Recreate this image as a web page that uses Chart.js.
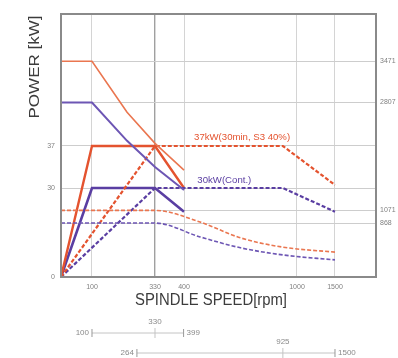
<!DOCTYPE html>
<html>
<head>
<meta charset="utf-8">
<script src="https://cdn.jsdelivr.net/npm/chart.js@4"></script>
<style>
  html, body { margin: 0; padding: 0; background: #fff; }
  #wrap { width: 398px; height: 358px; }
</style>
</head>
<body>
<div id="wrap"><canvas id="myChart" width="398" height="358"></canvas></div>
<script>
// tick values
const speedTicks = [100, 330, 400, 1000, 1500];      // rpm
const powerTicks = [0, 30, 37];                      // kW
const torqueTicks = [3471, 2807, 1071, 868];         // N·m

// power curves [rpm, kW]
const lowGear30 = [[0, 0], [100, 37], [330, 37], [400, 30]];
const highGear30 = [[0, 0], [330, 37], [925, 37], [1500, 30.5]];
const lowGearCont = [[0, 0], [100, 30], [330, 30], [400, 22]];
const highGearCont = [[0, 0], [330, 30], [925, 30], [1500, 22]];

// torque curves [rpm, N·m]
const lowTorque30 = [[0, 3471], [100, 3471], [228, 2650], [330, 2150], [400, 1720]];
const lowTorqueCont = [[0, 2807], [100, 2807], [228, 2190], [330, 1770], [400, 1400]];
const highTorque30 = [[0, 1071], [330, 1071], [485, 885], [700, 630], [925, 480], [1500, 400]];
const highTorqueCont = [[0, 868], [330, 868], [485, 645], [700, 470], [925, 355], [1500, 275]];

// gear speed ranges [from, switch, to]
const lowRange = [100, 330, 399];
const highRange = [264, 925, 1500];

const RED = '#e4532f';
const RED_LIGHT = '#ea7650';
const PURPLE = '#5a3ea2';
const PURPLE_LIGHT = '#6d56b4';

// linear scale with hand-set breakpoints (the chart's axes are not to scale)
function interp(xs, ys, v) {
  if (v <= xs[0]) return ys[0] + (v - xs[0]) * (ys[1] - ys[0]) / (xs[1] - xs[0]);
  for (let i = 1; i < xs.length; i++) {
    if (v <= xs[i]) return ys[i - 1] + (v - xs[i - 1]) * (ys[i] - ys[i - 1]) / (xs[i] - xs[i - 1]);
  }
  const n = xs.length - 1;
  return ys[n] + (v - xs[n]) * (ys[n] - ys[n - 1]) / (xs[n] - xs[n - 1]);
}
class BrokenScale extends Chart.LinearScale {
  getPixelForValue(v) {
    if (v === null || v === undefined || isNaN(v)) return NaN;
    const b = this.options.breaks;
    return this.getPixelForDecimal(interp(b.values, b.at, v));
  }
  getValueForPixel(p) {
    const b = this.options.breaks;
    return interp(b.at, b.values, this.getDecimalForPixel(p));
  }
}
BrokenScale.id = 'broken';
BrokenScale.defaults = Chart.LinearScale.defaults;
Chart.register(BrokenScale);

const pts = a => a.map(p => ({ x: p[0], y: p[1] }));
const tickFont = { family: 'Liberation Sans Narrow, Liberation Sans, sans-serif', size: 7 };

function fitText(ctx, text, cx, cy, w) {
  const m = ctx.measureText(text).width;
  ctx.save();
  ctx.translate(cx, cy);
  ctx.scale(w / m, 1);
  ctx.fillText(text, 0, 0);
  ctx.restore();
}

const extras = {
  id: 'extras',
  afterDraw(chart) {
    const { ctx, chartArea: a, scales } = chart;
    const x = scales.x, y = scales.y;
    ctx.save();
    ctx.strokeStyle = '#8a8a8a';
    ctx.lineWidth = 2;
    ctx.strokeRect(a.left, a.top, a.right - a.left, a.bottom - a.top);

    ctx.textAlign = 'center';
    ctx.textBaseline = 'middle';

    // curve labels
    ctx.font = '9px Liberation Sans Narrow, Liberation Sans, sans-serif';
    ctx.fillStyle = RED;
    fitText(ctx, '37kW(30min, S3 40%)', (x.getPixelForValue(460) + x.getPixelForValue(925)) / 2 + 3, y.getPixelForValue(37) - 8, 96);
    ctx.fillStyle = PURPLE;
    fitText(ctx, '30kW(Cont.)', x.getPixelForValue(460) + 29, y.getPixelForValue(30) - 7, 54);

    // axis titles
    ctx.fillStyle = '#3c3c3c';
    ctx.font = '16px Liberation Sans, sans-serif';
    fitText(ctx, 'SPINDLE SPEED[rpm]', 211, 301, 152);
    ctx.save();
    ctx.translate(35, 67);
    ctx.rotate(-Math.PI / 2);
    ctx.font = '14px Liberation Sans, sans-serif';
    fitText(ctx, 'POWER [kW]', 0, 0, 103);
    ctx.restore();

    // gear ranges
    ctx.font = tickFont.size + 1 + 'px ' + tickFont.family;
    [[lowRange, 333], [highRange, 353]].forEach(([r, ry]) => {
      const x0 = x.getPixelForValue(r[0]), xm = x.getPixelForValue(r[1]), x1 = x.getPixelForValue(r[2]);
      ctx.strokeStyle = '#c4c4c4';
      ctx.lineWidth = 1;
      ctx.beginPath();
      ctx.moveTo(x0, ry); ctx.lineTo(x1, ry);
      ctx.moveTo(xm, ry - 5); ctx.lineTo(xm, ry + 5);
      ctx.stroke();
      ctx.strokeStyle = '#999';
      ctx.beginPath();
      ctx.moveTo(x0, ry - 4); ctx.lineTo(x0, ry + 4);
      ctx.moveTo(x1, ry - 4); ctx.lineTo(x1, ry + 4);
      ctx.stroke();
      ctx.fillStyle = '#8a8a8a';
      ctx.textAlign = 'right';
      ctx.fillText(String(r[0]), x0 - 3, ry);
      ctx.textAlign = 'left';
      ctx.fillText(String(r[2]), x1 + 3, ry);
      ctx.textAlign = 'center';
      ctx.fillText(String(r[1]), xm, ry - 11);
    });
    ctx.restore();
  }
};

const ctx = document.getElementById('myChart');
new Chart(ctx, {
  type: 'line',
  data: {
    datasets: [
      { data: pts(lowTorque30), yAxisID: 'y2', borderColor: RED_LIGHT, borderWidth: 1.6, tension: 0 },
      { data: pts(lowTorqueCont), yAxisID: 'y2', borderColor: PURPLE_LIGHT, borderWidth: 2, tension: 0 },
      { data: pts(highTorque30), yAxisID: 'y2', borderColor: RED_LIGHT, borderWidth: 1.6, borderDash: [4, 2], cubicInterpolationMode: 'monotone' },
      { data: pts(highTorqueCont), yAxisID: 'y2', borderColor: PURPLE_LIGHT, borderWidth: 1.6, borderDash: [4, 2], cubicInterpolationMode: 'monotone' },
      { data: pts(highGear30), yAxisID: 'y', borderColor: RED, borderWidth: 2.2, borderDash: [4, 2], tension: 0 },
      { data: pts(highGearCont), yAxisID: 'y', borderColor: PURPLE, borderWidth: 2.2, borderDash: [4, 2], tension: 0 },
      { data: pts(lowGear30), yAxisID: 'y', borderColor: RED, borderWidth: 2.4, tension: 0 },
      { data: pts(lowGearCont), yAxisID: 'y', borderColor: PURPLE, borderWidth: 2.6, tension: 0 },
    ],
  },
  options: {
    responsive: false,
    animation: false,
    events: [],
    layout: { padding: { top: 14, left: 0, right: 0, bottom: 0 } },
    elements: { point: { radius: 0 }, line: { fill: false, borderCapStyle: 'butt' } },
    scales: {
      x: {
        type: 'broken',
        min: 0,
        max: 2040,
        breaks: { values: [0, 100, 330, 400, 1000, 1500, 2040], at: [0, 0.0984, 0.2984, 0.3905, 0.7492, 0.8698, 1] },
        afterBuildTicks: s => { s.ticks = speedTicks.map(v => ({ value: v })); },
        afterFit: s => { s.height = 81; },
        border: { display: false },
        grid: {
          drawTicks: false,
          color: c => (c.tick && c.tick.value === 330 ? '#a0a0a0' : '#d4d4d4'),
          lineWidth: c => (c.tick && c.tick.value === 330 ? 1.4 : 1),
        },
        ticks: { font: tickFont, color: '#808080', padding: 6, maxRotation: 0, autoSkip: false, callback: v => String(v) },
      },
      y: {
        type: 'broken',
        position: 'left',
        min: 0,
        max: 60,
        breaks: { values: [0, 30, 37, 60], at: [0, 0.3384, 0.4981, 1] },
        afterBuildTicks: s => { s.ticks = powerTicks.map(v => ({ value: v })); },
        afterFit: s => { s.width = 61; },
        border: { display: false },
        grid: { drawTicks: false, color: '#cdcdcd' },
        ticks: { font: tickFont, color: '#808080', padding: 6, autoSkip: false, callback: v => String(v) },
      },
      y2: {
        type: 'linear',
        position: 'right',
        min: 0,
        max: 4230,
        afterBuildTicks: s => { s.ticks = torqueTicks.map(v => ({ value: v })); },
        afterFit: s => { s.width = 22; },
        border: { display: false },
        grid: { drawTicks: false, color: '#cdcdcd' },
        ticks: { font: tickFont, color: '#808080', padding: 4, autoSkip: false, callback: v => String(v) },
      },
    },
    plugins: {
      legend: { display: false },
      tooltip: { enabled: false },
    },
  },
  plugins: [extras],
});
</script>
</body>
</html>
